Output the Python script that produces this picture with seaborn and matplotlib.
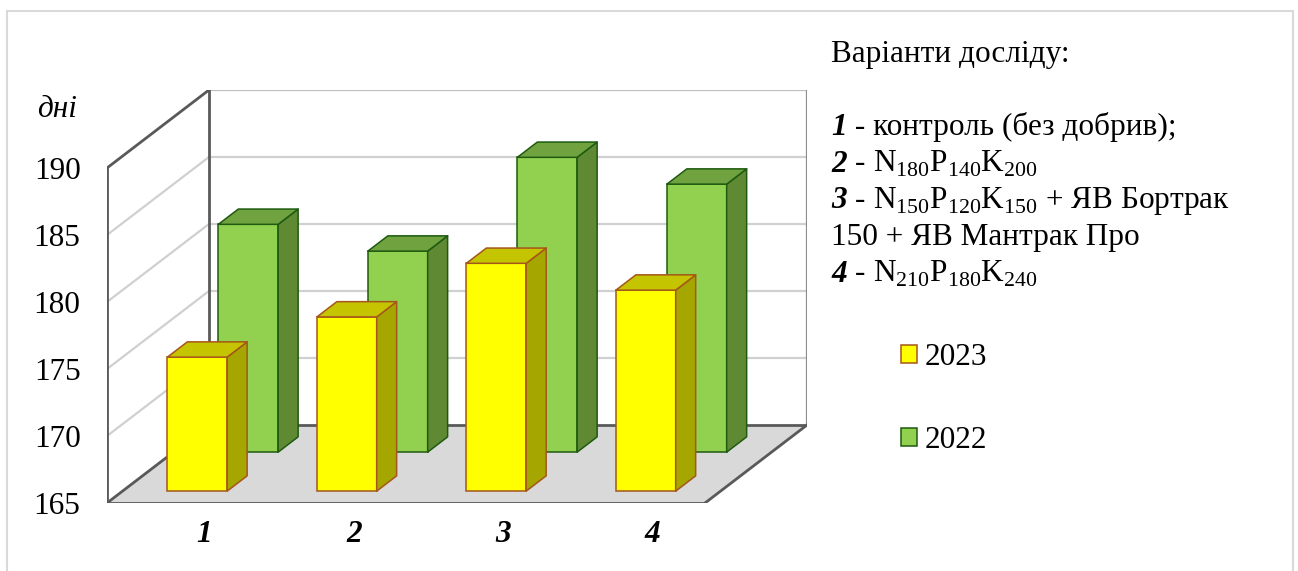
import numpy as np
import pandas as pd
import matplotlib
matplotlib.use("Agg")
import matplotlib.pyplot as plt
from matplotlib.patches import Polygon, Rectangle
from matplotlib.transforms import Affine2D
import seaborn as sns

# ---- data -------------------------------------------------------------
variants = ["1", "2", "3", "4"]
days_2023 = [175, 178, 182, 180]
days_2022 = [182, 180, 187, 185]
y_ticks = [165, 170, 175, 180, 185, 190]
y_unit = "дні"
series_labels = ["2023", "2022"]
legend_title = "Варіанти досліду:"
variant_numbers = ["1", "2", "3", "", "4"]
variant_texts = [
    " - контроль (без добрив);",
    r" - N$_{\mathregular{180}}$P$_{\mathregular{140}}$K$_{\mathregular{200}}$",
    r" - N$_{\mathregular{150}}$P$_{\mathregular{120}}$K$_{\mathregular{150}}$ + ЯВ Бортрак",
    "150 + ЯВ Мантрак Про",
    r" - N$_{\mathregular{210}}$P$_{\mathregular{180}}$K$_{\mathregular{240}}$",
]

# ---- style ------------------------------------------------------------
sns.set_style("white")
plt.rcParams["font.family"] = ["Liberation Serif", "DejaVu Serif"]
plt.rcParams["font.size"] = 22.5
for key in ("text.color", "xtick.color", "ytick.color", "axes.labelcolor"):
    plt.rcParams[key] = "black"
FS = 22.5

W, H = 1298, 571
fig = plt.figure(figsize=(W / 100, H / 100), dpi=100)

BASE, TOP = y_ticks[0], y_ticks[-1]
DX, DY = 0.682, 5.82          # full depth of the 3-D box (category units, value units)
BAR_W, BAR_D = 0.4, 0.196     # bar width and depth
n = len(variants)

ax = fig.add_axes([107 / W, (H - 503) / H, 700 / W, 413 / H])
ax.set_facecolor("none")


def P(x, v, z):
    """Oblique projection of (category, value, depth) onto the axes."""
    return (x + z * DX, v + z * DY)


x_lo, x_hi = -0.5, n - 0.5
dark, grid_c = "#595959", "#D0D0D0"

# walls and floor
ax.add_patch(Polygon([P(x_lo, BASE, 0), P(x_lo, TOP, 0), P(x_lo, TOP, 1), P(x_lo, BASE, 1)],
                     fc="white", ec="none", zorder=0))
ax.add_patch(Polygon([P(x_lo, BASE, 1), P(x_hi, BASE, 1), P(x_hi, TOP, 1), P(x_lo, TOP, 1)],
                     fc="white", ec="none", zorder=0))
ax.add_patch(Polygon([P(x_lo, BASE, 0), P(x_hi, BASE, 0), P(x_hi, BASE, 1), P(x_lo, BASE, 1)],
                     fc="#D9D9D9", ec="none", zorder=0.5))

for v in y_ticks[1:-1]:
    a, b, c = P(x_lo, v, 0), P(x_lo, v, 1), P(x_hi, v, 1)
    ax.plot([a[0], b[0], c[0]], [a[1], b[1], c[1]], color=grid_c, lw=1.6, zorder=0.6,
            solid_capstyle="butt")


def edge(p, q, color=dark, lw=2.0, z=0.8):
    ax.plot([p[0], q[0]], [p[1], q[1]], color=color, lw=lw, zorder=z, solid_capstyle="projecting")


edge(P(x_lo, TOP, 1), P(x_hi, TOP, 1), color="#BFBFBF", lw=1.6)
edge(P(x_hi, BASE, 1), P(x_hi, TOP, 1), color="#8C8C8C", lw=1.6)
edge(P(x_lo, BASE, 0), P(x_lo, TOP, 0))
edge(P(x_lo, TOP, 0), P(x_lo, TOP, 1))
edge(P(x_lo, BASE, 1), P(x_lo, TOP, 1))
edge(P(x_lo, BASE, 1), P(x_hi, BASE, 1))
edge(P(x_lo, BASE, 0), P(x_lo, BASE, 1))
edge(P(x_lo, BASE, 0), P(x_hi, BASE, 0), z=6)
edge(P(x_hi, BASE, 0), P(x_hi, BASE, 1), z=6)

# ---- bars: back row (2022) first, then front row (2023) ---------------
rows = [
    # values, depth centre, front, side, top, edge, zorder
    (days_2022, 0.75, "#92D050", "#5F8A33", "#70A23F", "#1E5A10", 3),
    (days_2023, 0.25, "#FFFF00", "#A6A600", "#C4C400", "#A5561A", 5),
]
handles = {}
for vals, zc, fc, sc, tc, ec, zo in rows:
    df = pd.DataFrame({"variant": variants, "height": np.asarray(vals) - BASE})
    n_before = len(ax.patches)
    sns.barplot(data=df, x="variant", y="height", bottom=BASE, width=BAR_W,
                color=fc, saturation=1, edgecolor=ec, linewidth=1.1,
                ax=ax, zorder=zo)
    zf, zb = zc - BAR_D / 2, zc + BAR_D / 2
    shift = Affine2D().translate(zf * DX, zf * DY) + ax.transData
    new = list(ax.patches[n_before:])
    for p in new:
        p.set_transform(shift)
        p.set_clip_on(False)
        x0, w = p.get_x(), p.get_width()
        y0, y1 = p.get_y(), p.get_y() + p.get_height()
        side = [P(x0 + w, y0, zf), P(x0 + w, y0, zb), P(x0 + w, y1, zb), P(x0 + w, y1, zf)]
        top = [P(x0, y1, zf), P(x0 + w, y1, zf), P(x0 + w, y1, zb), P(x0, y1, zb)]
        ax.add_patch(Polygon(side, fc=sc, ec=ec, lw=1.1, zorder=zo, joinstyle="round",
                             clip_on=False))
        ax.add_patch(Polygon(top, fc=tc, ec=ec, lw=1.1, zorder=zo, joinstyle="round",
                             clip_on=False))
    handles[fc] = new[0]

# ---- axes cosmetics ---------------------------------------------------
ax.set_xlim(x_lo, x_hi + DX)
ax.set_ylim(BASE, TOP + DY)
for s in ax.spines.values():
    s.set_visible(False)
ax.grid(False)
ax.set_xlabel("")
ax.set_ylabel("")
ax.set_yticks(y_ticks)
ax.set_yticklabels([str(t) for t in y_ticks], fontsize=FS)
ax.set_xticks(np.arange(n) + 0.15)
ax.set_xticklabels(variants, fontsize=FS, fontweight="bold", fontstyle="italic")
ax.tick_params(axis="y", length=0, pad=19)
ax.tick_params(axis="x", length=0, pad=12)

fig.text(37 / W, 1 - 117 / H, y_unit, fontsize=FS, fontstyle="italic", va="baseline")

# ---- right-hand description block ------------------------------------
fig.text(831 / W, 1 - 62 / H, legend_title, fontsize=FS, va="baseline")
baselines = [135, 172, 208, 245, 282]
for num, txt, yb in zip(variant_numbers, variant_texts, baselines):
    yf = 1 - yb / H
    if num:
        t = fig.text(831 / W, yf, num, fontsize=FS, fontweight="bold",
                     fontstyle="italic", va="baseline")
        ax.annotate(txt, xy=(1, yf), xycoords=(t, fig.transFigure), fontsize=FS,
                    va="baseline", ha="left", annotation_clip=False)
    else:
        fig.text(831 / W, yf, txt, fontsize=FS, va="baseline")

fig.legend([handles["#FFFF00"], handles["#92D050"]], series_labels,
           loc="upper left", bbox_to_anchor=(901 / W, 1 - 343 / H),
           frameon=False, fontsize=FS, borderpad=0, borderaxespad=0,
           handlelength=0.5, handleheight=0.5, handletextpad=0.25, labelspacing=1.72)

# outer frame
fig.add_artist(Rectangle((7 / W, -0.1), (1293 - 7) / W, 1.1 - 11 / H,
                         transform=fig.transFigure, fill=False, ec="#D9D9D9", lw=1.5))

fig.savefig("out.png", dpi=100)
